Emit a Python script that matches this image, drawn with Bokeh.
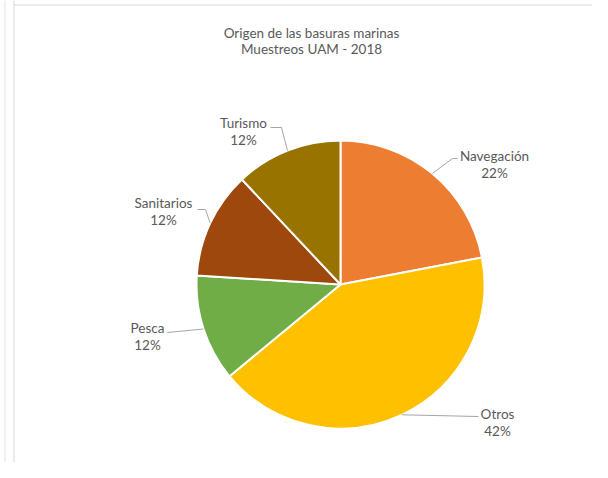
import math
from bokeh.plotting import figure
from bokeh.models import Range1d, ColumnDataSource, Span
from bokeh.core.properties import value
from bokeh.embed import file_html
from bokeh.resources import INLINE

# ---- data ----
categories = ["Navegación", "Otros", "Pesca", "Sanitarios", "Turismo"]
values = [22, 42, 12, 12, 12]
pct_labels = ["22%", "42%", "12%", "12%", "12%"]
colors = ["#ED7D31", "#FFC000", "#70AD47", "#9E480E", "#997300"]
title_lines = ["Origen de las basuras marinas", "Muestreos UAM - 2018"]

# ---- layout (screen pixel coordinates, y down) ----
CX, CY, R = 340, 284, 144
label_pos = [(494, 155), (497, 413), (147, 327), (163, 202), (243, 122)]
line_gap = 17
elbows = [
    [(452, 158), (457, 158)],
    [(478, 416)],
    [(167, 332)],
    [(205, 209), (197, 209)],
    [(281, 127), (270, 127)],
]

W, H = 592, 462
p = figure(width=W, height=H, output_backend="svg", toolbar_location=None,
           x_range=Range1d(0, W), y_range=Range1d(-H, 0),
           min_border=0)
p.axis.visible = False
p.grid.visible = False
p.background_fill_color = "white"
p.border_fill_color = "white"
p.outline_line_color = None
p.add_layout(Span(location=4.5, dimension="height", line_color="#E3E3E3", line_width=1))
p.add_layout(Span(location=13.5, dimension="height", line_color="#D9D9D9", line_width=1))
p.segment(x0=[13.5], y0=[-4.5], x1=[W], y1=[-4.5], line_color="#D9D9D9", line_width=1)

total = sum(values)
starts, ends, mids = [], [], []
cum = 0
for v in values:
    a0 = math.pi / 2 - 2 * math.pi * cum / total
    cum += v
    a1 = math.pi / 2 - 2 * math.pi * cum / total
    starts.append(a1)
    ends.append(a0)
    mids.append((a0 + a1) / 2)

src = ColumnDataSource(dict(start=starts, end=ends, color=colors))
p.wedge(x=CX, y=-CY, radius=R, radius_units="screen", start_angle="start", end_angle="end",
        fill_color="color", line_color="white", line_width=2, source=src)

# leader lines
for i, m in enumerate(mids):
    ex = CX + R * math.cos(m)
    ey = CY - R * math.sin(m)
    xs = [ex] + [pt[0] for pt in elbows[i]]
    ys = [-ey] + [-pt[1] for pt in elbows[i]]
    p.line(xs, ys, line_color="#A6A6A6", line_width=1)

font = value("Lato")
lx = [pt[0] for pt in label_pos]
p.text(x=lx, y=[-pt[1] for pt in label_pos], text=categories, text_font=font,
       text_font_size="13.5px", text_color="#595959", text_align="center", text_baseline="middle")
p.text(x=lx, y=[-(pt[1] + line_gap) for pt in label_pos], text=pct_labels, text_font=font,
       text_font_size="13.5px", text_color="#595959", text_align="center", text_baseline="middle")

p.text(x=[311, 311], y=[-32, -48], text=title_lines, text_font=font,
       text_font_size="13.5px", text_color="#595959", text_align="center", text_baseline="middle")

open("out.html", "w").write(file_html(p, INLINE))
